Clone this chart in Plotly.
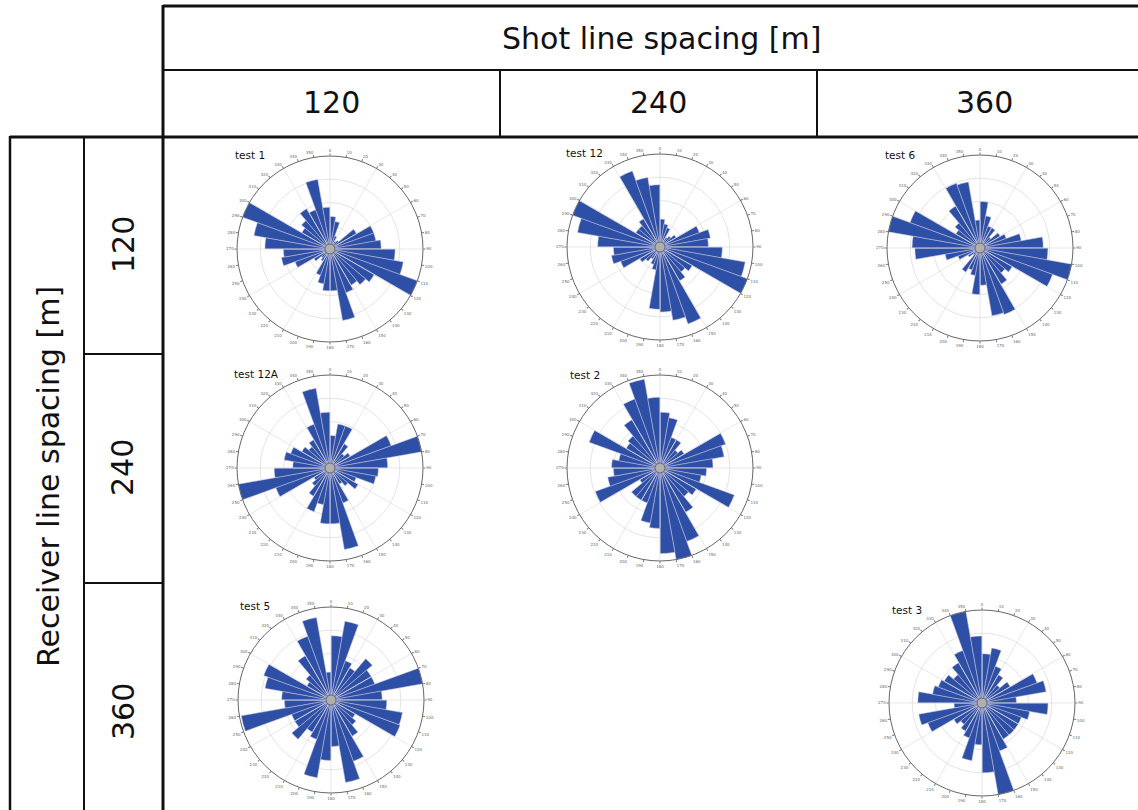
import plotly.graph_objects as go

W, H = 1138, 810

# ---- data -------------------------------------------------------------
bin_centers = list(range(5, 360, 10))          # 36 azimuth bins (deg)
angle_ticks = list(range(0, 360, 10))
angle_labels = [str(a) for a in angle_ticks]

col_labels = ["120", "240", "360"]
row_labels = ["120", "240", "360"]

test1 = [0.35, 0.30, 0.15, 0.10, 0.12, 0.33, 0.50, 0.50, 0.55, 0.70, 0.80, 1.00,
         0.55, 0.50, 0.45, 0.50, 0.78, 0.45, 0.45, 0.38, 0.30, 0.15, 0.12, 0.20,
         0.40, 0.53, 0.50, 0.70, 0.83, 1.00, 0.35, 0.40, 0.50, 0.45, 0.76, 0.45]
test12 = [0.30, 0.25, 0.22, 0.12, 0.15, 0.20, 0.45, 0.55, 0.52, 0.67, 0.93, 1.00,
          0.40, 0.35, 0.42, 0.88, 0.80, 0.70, 0.67, 0.25, 0.20, 0.15, 0.20, 0.25,
          0.45, 0.53, 0.50, 0.67, 0.90, 1.00, 0.30, 0.30, 0.35, 0.87, 0.76, 0.67]
test6 = [0.50, 0.35, 0.25, 0.25, 0.15, 0.25, 0.30, 0.45, 0.68, 0.73, 1.00, 0.83,
         0.40, 0.35, 0.45, 0.76, 0.74, 0.40, 0.50, 0.30, 0.25, 0.30, 0.10, 0.15,
         0.25, 0.38, 0.70, 0.73, 1.00, 0.80, 0.30, 0.35, 0.52, 0.74, 0.72, 0.30]
test12A = [0.35, 0.48, 0.48, 0.30, 0.20, 0.25, 0.70, 1.00, 0.62, 0.52, 0.50, 0.30,
           0.35, 0.25, 0.20, 0.40, 0.89, 0.60, 0.60, 0.40, 0.50, 0.35, 0.25, 0.20,
           0.62, 1.00, 0.60, 0.40, 0.50, 0.45, 0.35, 0.30, 0.35, 0.50, 0.87, 0.60]
test2 = [0.60, 0.55, 0.35, 0.35, 0.25, 0.30, 0.75, 0.70, 0.57, 0.50, 0.45, 0.85,
         0.45, 0.40, 0.55, 0.84, 1.00, 0.92, 0.65, 0.60, 0.40, 0.40, 0.40, 0.25,
         0.74, 0.57, 0.50, 0.52, 0.45, 0.81, 0.42, 0.45, 0.60, 0.79, 0.97, 0.76]
test5 = [0.69, 0.86, 0.45, 0.40, 0.58, 0.50, 0.50, 1.00, 0.55, 0.60, 0.78, 0.79,
         0.30, 0.35, 0.45, 0.70, 0.90, 0.50, 0.65, 0.85, 0.45, 0.40, 0.55, 0.45,
         0.45, 0.98, 0.50, 0.53, 0.72, 0.77, 0.30, 0.35, 0.55, 0.73, 0.90, 0.30]
test3 = [0.53, 0.60, 0.42, 0.35, 0.25, 0.35, 0.63, 0.70, 0.37, 0.71, 0.52, 0.45,
         0.45, 0.45, 0.45, 0.55, 1.00, 0.75, 0.45, 0.63, 0.40, 0.35, 0.30, 0.35,
         0.62, 0.69, 0.30, 0.69, 0.54, 0.50, 0.47, 0.40, 0.50, 0.60, 1.00, 0.72]

roses = [
    ("test 1", test1), ("test 12", test12), ("test 6", test6),
    ("test 12A", test12A), ("test 2", test2),
    ("test 5", test5), ("test 3", test3),
]

# ---- layout helpers (pixel -> paper) ------------------------------------
def px(x):
    return x / W

def py(y):
    return 1 - y / H

# polar centres (pixels) and label positions
centres = [(330, 249), (660, 247), (980, 248), (330, 468), (660, 468), (331, 700), (982, 703)]
label_pos = [(233, 155), (564, 153), (883, 155), (232, 374), (568, 375), (238, 606), (890, 610)]
RAD = 93

fig = go.Figure()
layout_polars = {}
annotations = []

for i, ((name, vals), (cx, cy), (lx, ly)) in enumerate(zip(roses, centres, label_pos)):
    key = "polar" if i == 0 else f"polar{i+1}"
    sub = key
    # spokes (grid) every 30 degrees
    sr, st = [], []
    for a in range(0, 360, 30):
        sr += [0, 1, None]
        st += [a, a, None]
    fig.add_trace(go.Scatterpolar(r=sr, theta=st, mode="lines",
                                  line=dict(color="#dedede", width=0.7),
                                  hoverinfo="skip", showlegend=False, subplot=sub))
    fig.add_trace(go.Barpolar(r=vals, theta=bin_centers, width=[10] * len(bin_centers),
                              marker=dict(color="#2e4fa6",
                                          line=dict(color="#c9c3dc", width=0.5)),
                              showlegend=False, subplot=sub, name=name))
    fig.add_trace(go.Scatterpolar(r=[0], theta=[0], mode="markers",
                                  marker=dict(color="#b0b0b0", size=10,
                                              line=dict(color="#666666", width=1)),
                                  hoverinfo="skip", showlegend=False, subplot=sub))
    layout_polars[key] = dict(
        domain=dict(x=[px(cx - RAD), px(cx + RAD)], y=[py(cy + RAD), py(cy - RAD)]),
        bgcolor="white",
        angularaxis=dict(direction="clockwise", rotation=90,
                         tickvals=angle_ticks, ticktext=angle_labels,
                         tickfont=dict(size=4, color="#666666", family="DejaVu Sans"),
                         ticks="outside", ticklen=2, tickcolor="#777777",
                         showgrid=False, linecolor="#666666", linewidth=1),
        radialaxis=dict(range=[0, 1], tickvals=[0.25, 0.5, 0.75],
                        showticklabels=False, ticks="", showline=False,
                        gridcolor="#e4e4e4", gridwidth=0.7),
    )
    annotations.append(dict(x=px(lx), y=py(ly), xref="paper", yref="paper",
                            text=name, showarrow=False, xanchor="left", yanchor="middle",
                            font=dict(size=10.5, color="#111111", family="DejaVu Sans")))

# ---- table text --------------------------------------------------------
big = dict(size=30, color="#111111", family="DejaVu Sans")
def label(x, y, text, angle=0):
    return dict(x=px(x), y=py(y), xref="paper", yref="paper", text=text,
                showarrow=False, textangle=angle, font=big,
                xanchor="center", yanchor="middle")

annotations.append(label(662, 38, "Shot line spacing [m]"))
for lab, x in zip(col_labels, [331, 658, 984]):
    annotations.append(label(x, 103, lab))
for lab, y in zip(row_labels, [245, 468, 712]):
    annotations.append(label(123, y, lab, -90))
annotations.append(label(48, 477, "Receiver line spacing [m]", -90))

# ---- table lines -------------------------------------------------------
def seg(x0, y0, x1, y1, w):
    return dict(type="line", xref="paper", yref="paper",
                x0=px(x0), y0=py(y0), x1=px(x1), y1=py(y1),
                line=dict(color="#111111", width=w))

shapes = [
    seg(163, 6, W, 6, 3),
    seg(163, 70, W, 70, 2),
    seg(10, 137, W, 137, 3),
    seg(163, 5, 163, H, 3),
    seg(500, 70, 500, 137, 2),
    seg(817, 70, 817, 137, 2),
    seg(10, 136, 10, H, 2.5),
    seg(84, 137, 84, H, 2),
    seg(84, 354, 163, 354, 2),
    seg(84, 583, 163, 583, 2),
]

fig.update_layout(width=W, height=H, autosize=False,
                  margin=dict(l=0, r=0, t=0, b=0),
                  paper_bgcolor="white", plot_bgcolor="white",
                  annotations=annotations, shapes=shapes, **layout_polars)

fig.write_html("out.html")
